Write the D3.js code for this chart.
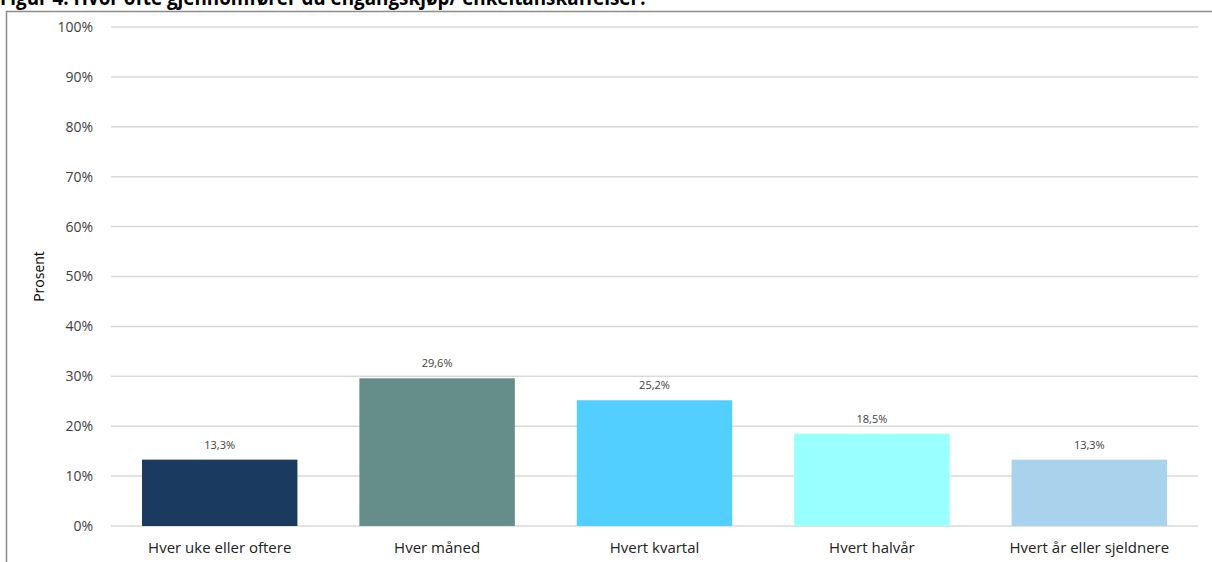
<!DOCTYPE html>
<html>
<head>
<meta charset="utf-8">
<script src="https://cdn.jsdelivr.net/npm/d3@7"></script>
<style>
  html, body { margin: 0; padding: 0; background: #fff; }
  svg { display: block; }
</style>
</head>
<body>
<svg id="chart" width="1212" height="562"></svg>
<script>
// Response shares per purchase frequency (percent)
const categories = ["Hver uke eller oftere", "Hver måned", "Hvert kvartal", "Hvert halvår", "Hvert år eller sjeldnere"];
const values = [13.3, 29.6, 25.2, 18.5, 13.3];
const colors = ["#1a3a5f", "#658d8a", "#52cfff", "#99ffff", "#a9d3ec"];
const yTicks = [0, 10, 20, 30, 40, 50, 60, 70, 80, 90, 100];
const titleText = "Figur 4: Hvor ofte gjennomfører du engangskjøp/ enkeltanskaffelser?";
const yLabel = "Prosent";

const svg = d3.select("#chart");
const font = "'Open Sans', 'Liberation Sans', Arial, sans-serif";

const plot = { left: 111, right: 1198, top: 27, bottom: 526 };

const x = d3.scaleBand()
  .domain(categories)
  .range([plot.left, plot.right])
  .paddingInner(0.285)
  .paddingOuter(0.1425);

const y = d3.scaleLinear()
  .domain([0, 100])
  .range([plot.bottom, plot.top]);

// Title, sitting at the very top edge of the page
svg.append("text")
  .attr("x", 0)
  .attr("y", 5)
  .attr("font-family", font)
  .attr("font-weight", "bold")
  .attr("font-size", 21)
  .attr("textLength", 648)
  .attr("lengthAdjust", "spacingAndGlyphs")
  .attr("fill", "#000")
  .text(titleText);

// Chart frame
svg.append("path")
  .attr("d", `M6.5,562 V11.5 H1212`)
  .attr("fill", "none")
  .attr("stroke", "#8c8c8c")
  .attr("stroke-width", 1.5);

// Gridlines
svg.append("g")
  .selectAll("line")
  .data(yTicks)
  .join("line")
  .attr("x1", plot.left)
  .attr("x2", plot.right)
  .attr("y1", d => y(d))
  .attr("y2", d => y(d))
  .attr("stroke", "#d9d9d9")
  .attr("stroke-width", 1.5);

// Y axis tick labels
const yAxis = svg.append("g")
  .attr("transform", `translate(${plot.left},0)`)
  .call(d3.axisLeft(y).tickValues(yTicks).tickSize(0).tickPadding(18).tickFormat(d => d + "%"));
yAxis.select(".domain").remove();
yAxis.selectAll("text")
  .attr("font-family", font)
  .attr("font-size", 14)
  .attr("fill", "#404040");

// Y axis title
svg.append("text")
  .attr("transform", `translate(44,${(plot.top + plot.bottom) / 2}) rotate(-90)`)
  .attr("text-anchor", "middle")
  .attr("font-family", font)
  .attr("font-size", 14)
  .attr("fill", "#000")
  .text(yLabel);

// Bars
svg.append("g")
  .selectAll("rect")
  .data(values)
  .join("rect")
  .attr("x", (d, i) => x(categories[i]))
  .attr("y", d => y(d))
  .attr("width", x.bandwidth())
  .attr("height", d => y(0) - y(d))
  .attr("fill", (d, i) => colors[i]);

// Value labels
svg.append("g")
  .selectAll("text")
  .data(values)
  .join("text")
  .attr("x", (d, i) => x(categories[i]) + x.bandwidth() / 2)
  .attr("y", d => y(d) - 11)
  .attr("text-anchor", "middle")
  .attr("font-family", font)
  .attr("font-size", 11)
  .attr("fill", "#404040")
  .text(d => d3.format(".1f")(d).replace(".", ",") + "%");

// Category labels
const xAxis = svg.append("g")
  .attr("transform", `translate(0,${plot.bottom})`)
  .call(d3.axisBottom(x).tickSize(0).tickPadding(16));
xAxis.select(".domain").remove();
xAxis.selectAll("text")
  .attr("font-family", font)
  .attr("font-size", 15)
  .attr("fill", "#222");
</script>
</body>
</html>
